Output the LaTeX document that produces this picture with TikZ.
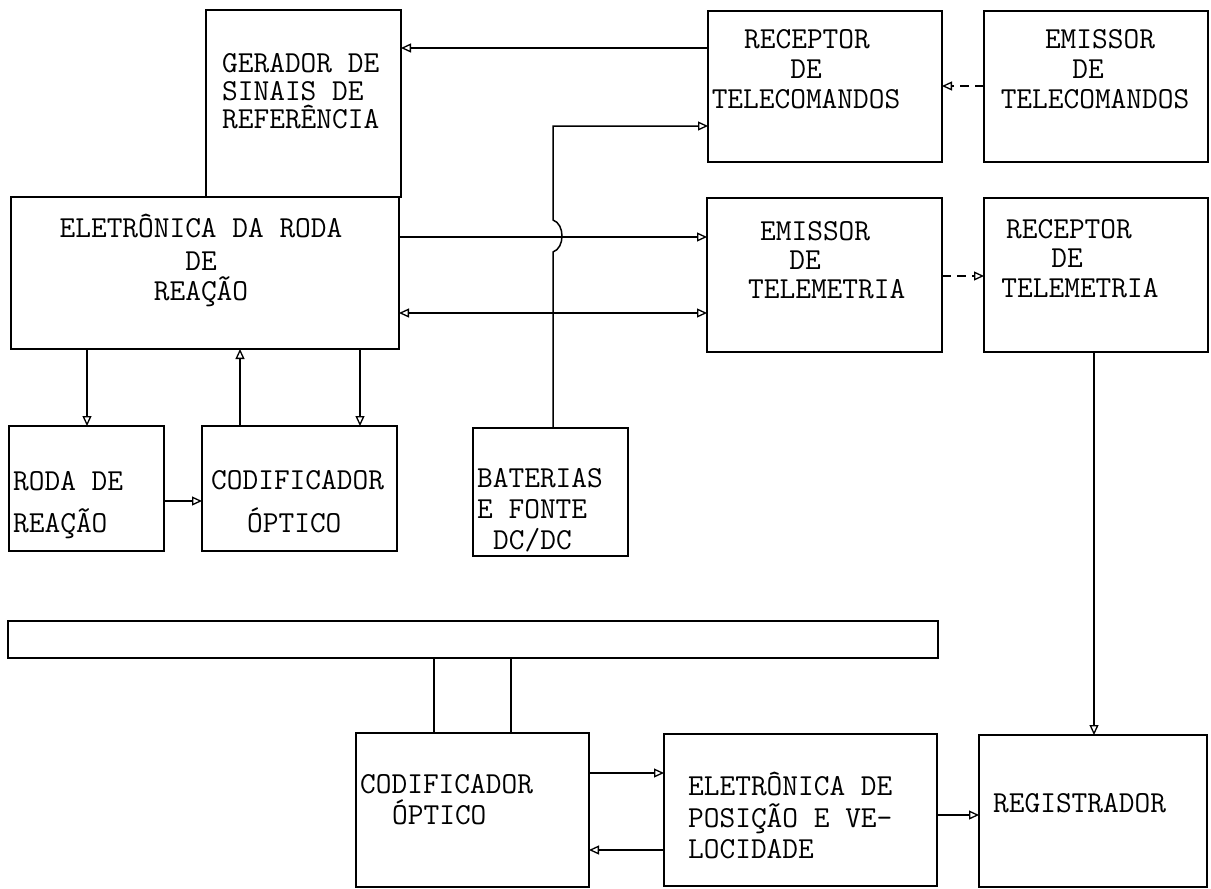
\documentclass[tikz,border=0pt]{standalone}
\usetikzlibrary{arrows.meta,fit}
\begin{document}
\begin{tikzpicture}[x=1pt,y=-1pt,
  blk/.style={draw, line width=1.9pt, inner sep=0pt, outer sep=0pt},
  lbl/.style={font=\fontsize{30.5}{30.5}\selectfont\ttfamily, inner sep=0pt, anchor=base west},
  lblc/.style={lbl, anchor=base},
  tip/.tip={Triangle[open, length=10pt, width=9pt, line width=1.3pt]},
  arr/.style={line width=1.5pt, -tip},
  darr/.style={line width=1.5pt, tip-tip},
  dsh/.style={arr, dash pattern=on 9pt off 6pt},
  wire/.style={line width=1.5pt}]
\useasboundingbox (0,0) rectangle (1211,889);
% boxes
\node[blk, fit={(206,10) (401,197)}] (ger) {};
\node[blk, fit={(11,197) (399,349)}] (elet) {};
\node[blk, fit={(708,11) (942,162)}] (rtc) {};
\node[blk, fit={(984,11) (1208,162)}] (etc) {};
\node[blk, fit={(707,198) (942,352)}] (etm) {};
\node[blk, fit={(984,198) (1208,352)}] (rtm) {};
\node[blk, fit={(9,426) (164,551)}] (roda) {};
\node[blk, fit={(202,426) (397,551)}] (cod) {};
\node[blk, fit={(473,428) (628,556)}] (bat) {};
\node[blk, fit={(8,621) (938,658)}] (bar) {};
\node[blk, fit={(356,733) (589,887)}] (cod2) {};
\node[blk, fit={(664,734) (937,886)}] (epv) {};
\node[blk, fit={(979,735) (1207,887)}] (reg) {};
% texts
\node[lbl] (t1) at (222,72) {GERADOR DE};
\node[lbl] (t2) at (222,100) {SINAIS DE};
\node[lbl] (t3) at (222,128) {REFERÊNCIA};
\node[lblc] (t4) at (201,237) {ELETRÔNICA DA RODA};
\node[lblc] (t5) at (201,270) {DE};
\node[lblc] (t6) at (201,300) {REAÇÃO};
\node[lblc] (t7) at (807,48) {RECEPTOR};
\node[lblc] (t8) at (806,78) {DE};
\node[lblc] (t9) at (806,108) {TELECOMANDOS};
\node[lblc] (t10) at (1100,48) {EMISSOR};
\node[lblc] (t11) at (1088,78) {DE};
\node[lblc] (t12) at (1095,108) {TELECOMANDOS};
\node[lbl] (t13) at (760,240) {EMISSOR};
\node[lblc] (t14) at (805,269) {DE};
\node[lbl] (t15) at (748,298) {TELEMETRIA};
\node[lblc] (t16) at (1069,238) {RECEPTOR};
\node[lblc] (t17) at (1067,267) {DE};
\node[lblc] (t18) at (1080,297) {TELEMETRIA};
\node[lbl] (t19) at (13,490) {RODA DE};
\node[lbl] (t20) at (13,532) {REAÇÃO};
\node[lbl] (t21) at (211,489) {CODIFICADOR};
\node[lbl] (t22) at (247,532) {ÓPTICO};
\node[lbl] (t23) at (477,487) {BATERIAS};
\node[lbl] (t24) at (477,518) {E FONTE};
\node[lbl] (t25) at (493,549) {DC/DC};
\node[lbl] (t26) at (360,793) {CODIFICADOR};
\node[lbl] (t27) at (392,824) {ÓPTICO};
\node[lbl] (t28) at (688,795) {ELETRÔNICA DE};
\node[lbl] (t29) at (688,827) {POSIÇÃO E VE-};
\node[lbl] (t30) at (688,858) {LOCIDADE};
\node[lbl] (t31) at (993,812) {REGISTRADOR};
% connectors
\draw[arr] (rtc.west |- 0,48) -- (ger.east |- 0,48);
\draw[dsh] (etc.west |- 0,86) -- (rtc.east |- 0,86);
\draw[arr] (553,0 |- bat.north) -- (553,252) .. controls (565,248) and (565,224) .. (553,220) -- (553,126) -- (rtc.west |- 0,126);
\draw[arr] (elet.east |- 0,237) -- (etm.west |- 0,237);
\draw[darr] (elet.east |- 0,313) -- (etm.west |- 0,313);
\draw[dsh] (etm.east |- 0,276) -- (rtm.west |- 0,276);
\draw[arr] (1094,0 |- rtm.south) -- (1094,0 |- reg.north);
\draw[arr] (87,0 |- elet.south) -- (87,0 |- roda.north);
\draw[arr] (240,0 |- cod.north) -- (240,0 |- elet.south);
\draw[arr] (360,0 |- elet.south) -- (360,0 |- cod.north);
\draw[arr] (roda.east |- 0,501) -- (cod.west |- 0,501);
\draw[wire] (434,0 |- bar.south) -- (434,0 |- cod2.north);
\draw[wire] (511,0 |- bar.south) -- (511,0 |- cod2.north);
\draw[arr] (cod2.east |- 0,773) -- (epv.west |- 0,773);
\draw[arr] (epv.west |- 0,850) -- (cod2.east |- 0,850);
\draw[arr] (epv.east |- 0,815) -- (reg.west |- 0,815);
\end{tikzpicture}
\end{document}
